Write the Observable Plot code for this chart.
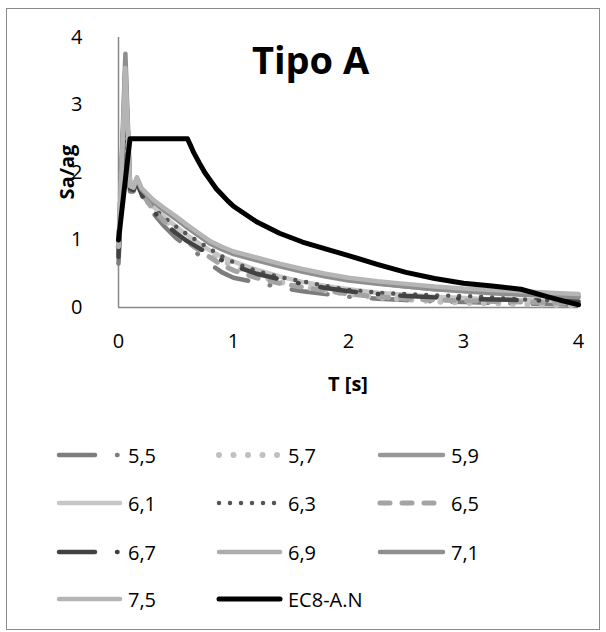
<!DOCTYPE html>
<html><head><meta charset="utf-8">
<script src="https://cdn.jsdelivr.net/npm/d3@7"></script>
<script src="https://cdn.jsdelivr.net/npm/@observablehq/plot@0.6"></script>
<style>
body{margin:0;background:#fff;font-family:"Open Sans",sans-serif;}
#wrap{position:relative;width:606px;height:632px;overflow:hidden;background:#fff;}
#frame{position:absolute;left:6px;top:8px;width:594px;height:622px;border:1.5px solid #8a8a8a;box-sizing:border-box;}
#chart{position:absolute;left:0;top:0;}
#legend{position:absolute;left:0;top:410px;}
.lab{position:absolute;font-weight:bold;font-size:20px;color:#000;white-space:nowrap;font-family:"Open Sans",sans-serif;}
#ylab{left:66px;top:172px;transform:translate(-50%,-50%) rotate(-90deg);}
#xlab{left:348px;top:383px;transform:translate(-50%,-50%);}
</style></head>
<body><div id="wrap"><div id="frame"></div><div id="chart"></div><div id="legend"></div>
<div class="lab" id="ylab">Sa/ag</div><div class="lab" id="xlab">T [s]</div></div>
<script>
// Period grid (s) for the magnitude spectra
const T = [0,0.03,0.06,0.1,0.13,0.16,0.2,0.3,0.4,0.5,0.6,0.7,0.8,0.9,1.0,1.2,1.4,1.6,1.8,2.0,2.25,2.5,2.75,3.0,3.25,3.5,3.75,4.0];
// Sa/ag values per magnitude
const s55 = [0.65,1.9,2.6,1.72,1.72,1.85,1.66,1.4,1.2,1.03,0.9,0.78,0.64,0.52,0.44,0.37,0.3,0.24,0.2,0.16,0.13,0.11,0.09,0.08,0.07,0.06,0.05,0.04];
const s57 = [0.9,2.1,3.0,1.77,1.75,1.87,1.7,1.46,1.3,1.15,1.02,0.9,0.8,0.7,0.62,0.48,0.38,0.31,0.25,0.2,0.15,0.12,0.09,0.07,0.06,0.05,0.04,0.03];
const s59 = [0.9,2.2,3.4,1.8,1.77,1.91,1.75,1.56,1.43,1.31,1.18,1.06,0.94,0.86,0.79,0.7,0.61,0.53,0.46,0.4,0.35,0.31,0.27,0.25,0.23,0.21,0.19,0.17];
const s61 = [0.9,2.1,3.3,1.78,1.76,1.88,1.72,1.5,1.34,1.2,1.07,0.95,0.84,0.75,0.68,0.56,0.46,0.38,0.32,0.27,0.22,0.19,0.16,0.14,0.12,0.11,0.1,0.09];
const s63 = [0.9,2.1,2.9,1.78,1.75,1.88,1.72,1.48,1.33,1.2,1.08,0.97,0.86,0.76,0.67,0.54,0.45,0.39,0.32,0.26,0.22,0.2,0.18,0.17,0.15,0.12,0.1,0.08];
const s65 = [0.8,2.1,3.5,1.78,1.76,1.88,1.7,1.45,1.27,1.1,0.97,0.85,0.74,0.63,0.55,0.44,0.36,0.3,0.25,0.2,0.16,0.13,0.11,0.1,0.09,0.08,0.07,0.06];
const s67 = [0.75,2.0,3.1,1.76,1.74,1.86,1.68,1.43,1.25,1.1,0.98,0.88,0.78,0.7,0.62,0.5,0.42,0.35,0.29,0.24,0.2,0.17,0.15,0.13,0.12,0.11,0.1,0.09];
const s69 = [0.9,2.2,3.6,1.8,1.78,1.92,1.76,1.58,1.45,1.33,1.2,1.08,0.96,0.88,0.81,0.72,0.63,0.55,0.48,0.42,0.37,0.33,0.29,0.27,0.25,0.23,0.21,0.19];
const s71 = [0.9,2.3,3.76,1.82,1.78,1.92,1.75,1.57,1.44,1.32,1.19,1.07,0.95,0.87,0.8,0.71,0.62,0.54,0.47,0.41,0.36,0.31,0.27,0.24,0.21,0.19,0.17,0.15];
const s75 = [0.9,2.2,3.55,1.8,1.78,1.93,1.77,1.6,1.47,1.35,1.22,1.1,0.98,0.9,0.83,0.74,0.65,0.57,0.5,0.44,0.39,0.35,0.31,0.28,0.26,0.24,0.22,0.2];
// EC8 type A spectrum
const ecT = [0,0.1,0.6,0.65,0.7,0.75,0.8,0.85,0.9,0.95,1.0,1.2,1.4,1.6,1.8,2.0,2.25,2.5,2.75,3.0,3.25,3.5,3.75,4.0];
const ecV = [1.0,2.5,2.5,2.31,2.15,2.0,1.88,1.76,1.67,1.58,1.5,1.27,1.1,0.97,0.87,0.77,0.64,0.52,0.43,0.36,0.32,0.27,0.15,0.04];
// legend labels
const names = ["5,5","5,7","5,9","6,1","6,3","6,5","6,7","6,9","7,1","7,5","EC8-A.N"];
const axisTicks = [0,1,2,3,4];

const seriesValues = [s55,s57,s59,s61,s63,s65,s67,s69,s71,s75];
const styles = {
  "5,5": {stroke:"#7d7d7d", w:4.5, dash:"36,22,0.5,22"},
  "5,7": {stroke:"#c0c0c0", w:6, dash:"0,14.5"},
  "5,9": {stroke:"#979797", w:4.5, dash:null},
  "6,1": {stroke:"#c6c6c6", w:4.5, dash:null},
  "6,3": {stroke:"#555555", w:4.5, dash:"0,11"},
  "6,5": {stroke:"#a4a4a4", w:5, dash:"10,12"},
  "6,7": {stroke:"#424242", w:4.5, dash:"36,22,0.5,22"},
  "6,9": {stroke:"#adadad", w:4.5, dash:null},
  "7,1": {stroke:"#8e8e8e", w:4.5, dash:null},
  "7,5": {stroke:"#b5b5b5", w:4.5, dash:null},
  "EC8-A.N": {stroke:"#000000", w:5, dash:null}
};

const rows = [];
seriesValues.forEach((vals, i) => vals.forEach((v, j) => rows.push({name: names[i], T: T[j], v})));
ecT.forEach((t, j) => rows.push({name: "EC8-A.N", T: t, v: ecV[j]}));

const lineMarks = names.map(n => {
  const s = styles[n];
  const o = {x:"T", y:"v", stroke:s.stroke, strokeWidth:s.w, strokeLinecap:"round", strokeLinejoin:"round"};
  if (s.dash) o.strokeDasharray = s.dash;
  return Plot.line(rows.filter(r => r.name === n), o);
});

const chart = Plot.plot({
  width: 606, height: 400,
  marginLeft: 118, marginRight: 28, marginTop: 37, marginBottom: 93,
  x: {domain:[0,4]}, y: {domain:[0,4]},
  style: {fontFamily:'"Open Sans", sans-serif', fontSize:"20px", color:"#000", background:"transparent", overflow:"visible"},
  marks: [
    Plot.axisX({ticks: axisTicks, tickSize:0, tickPadding:26, label:null, fontSize:20, tickFormat: d => String(d)}),
    Plot.axisY({ticks: axisTicks, tickSize:0, tickPadding:36, label:null, fontSize:20, tickFormat: d => String(d)}),
    Plot.ruleX([0], {stroke:"#888", strokeWidth:1.5}),
    Plot.ruleY([0], {stroke:"#888", strokeWidth:1.5}),
    ...lineMarks,
    Plot.text(["Tipo A"], {frameAnchor:"top", dx:-38, dy:24, fontSize:38, fontWeight:"bold", lineAnchor:"middle", fill:"#000"})
  ]
});
document.getElementById("chart").appendChild(chart);

// Legend
const lsvg = d3.create("svg").attr("width", 606).attr("height", 222)
  .style("font-family", '"Open Sans", sans-serif');
const colX1 = [59, 219, 380], colX2 = [120, 280, 443], colT = [128, 288, 451], rowY = [45, 93, 142, 189];
names.forEach((n, i) => {
  const c = i % 3, r = Math.floor(i / 3), s = styles[n];
  const ln = lsvg.append("line").attr("x1", colX1[c]).attr("x2", colX2[c]).attr("y1", rowY[r]).attr("y2", rowY[r])
    .attr("stroke", s.stroke).attr("stroke-width", s.w).attr("stroke-linecap", "round");
  if (s.dash) ln.attr("stroke-dasharray", s.dash);
  lsvg.append("text").attr("x", colT[c]).attr("y", rowY[r]).attr("dominant-baseline", "central")
    .attr("font-size", 20).attr("fill", "#000").text(n);
});
document.getElementById("legend").appendChild(lsvg.node());
</script>
</body></html>
